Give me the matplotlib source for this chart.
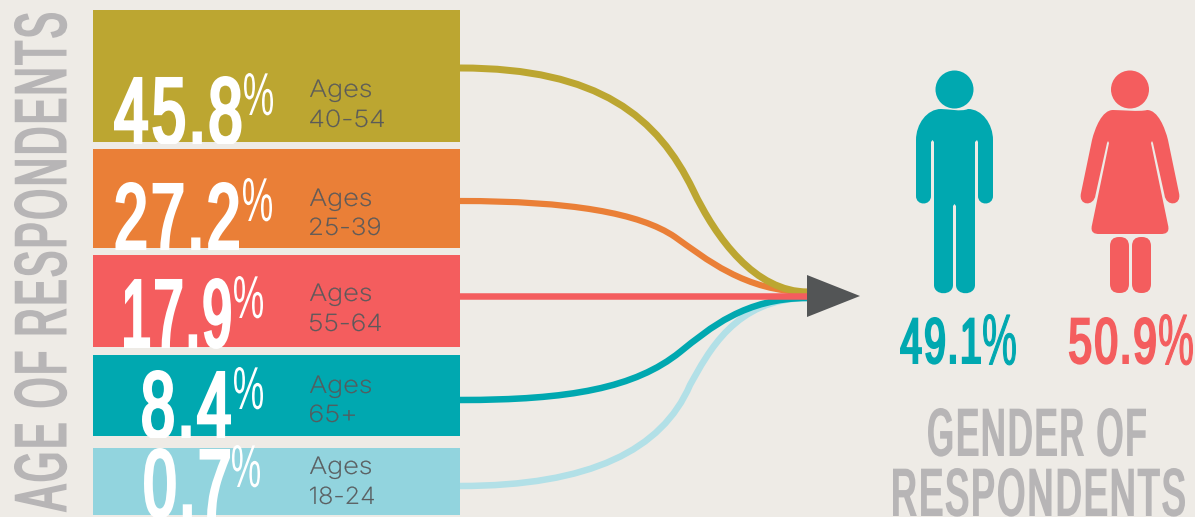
import matplotlib
matplotlib.use("Agg")
import logging
logging.getLogger("matplotlib.font_manager").setLevel(logging.ERROR)
import matplotlib.pyplot as plt
from matplotlib.patches import Rectangle, PathPatch, Circle, Polygon, FancyBboxPatch
from matplotlib.path import Path
from matplotlib.patheffects import AbstractPathEffect
from matplotlib.transforms import Affine2D
import numpy as np

# ---- data ----
age_groups = ["40-54", "25-39", "55-64", "65+", "18-24"]
age_values = [45.8, 27.2, 17.9, 8.4, 0.7]
gender_labels = ["Male", "Female"]
gender_values = [49.1, 50.9]

# ---- layout and style (pixel space) ----
W, H = 1195, 517
BG = "#eeebe6"
GRAY = "#b7b5b6"
DARK = "#58595b"
colors = ["#bca631", "#ea7f37", "#f45d5e", "#00a8b0", "#92d4de"]
line_colors = ["#bca631", "#ea7f37", "#f45d5e", "#00a8b0", "#b2e0e7"]
bar_top = [10, 149, 255, 355, 448]
bar_bot = [142, 248, 347, 436, 515]
# each flow line is two joined curve pieces: start, control, control, middle, control, control, end
flow_paths = [
    [(460, 68), (600, 68), (658, 118), (693, 190), (716, 238), (755, 292), (808, 292)],
    [(460, 201), (570, 201), (640, 213), (675, 237), (705, 258), (745, 292), (808, 292)],
    [(460, 296.5), (570, 296.5), (650, 296.5), (675, 296.5), (700, 296.5), (750, 296.5), (808, 296.5)],
    [(460, 400), (570, 400), (635, 388), (680, 352), (710, 328), (745, 298), (808, 298)],
    [(460, 486), (590, 486), (662, 450), (690, 385), (708, 353), (735, 298), (808, 298)],
]
line_w = [7.0, 6.2, 6.5, 6.5, 6.5]
line_order = [1, 0, 4, 3, 2]
num_box = [(114, 241.5, 76, 145), (115.5, 239, 182, 251), (124, 231, 278, 348),
           (142, 231, 370, 439), (144, 230, 448, 518)]
pct_box = [(244, 273, 73, 115), (243, 272, 178, 221), (234, 263, 276, 318),
           (234, 263, 367, 409), (232, 260, 445, 487)]
age_base = [(97, 127), (206, 235), (301, 331), (393, 422), (474, 504)]
age_w = [(61, 74), (61, 70), (61, 71), (61, 45), (61, 64)]


class Fit(AbstractPathEffect):
    """Scale a glyph run so its ink fills a given width and cap height.
    narrow < 1 slims each glyph about its own centre, opening the letter gaps."""
    def __init__(self, w, h, grow=0.0, narrow=1.0):
        super().__init__()
        self.w, self.h, self.grow, self.narrow = w, h, grow, narrow

    def _slim(self, tpath):
        verts = np.array(tpath.vertices, dtype=float)
        codes = tpath.codes
        if self.narrow >= 1 or codes is None:
            return tpath
        starts = list(np.nonzero(codes == Path.MOVETO)[0]) + [len(codes)]
        contours = []
        for a, b in zip(starts[:-1], starts[1:]):
            keep = np.arange(a, b)[codes[a:b] != Path.CLOSEPOLY]
            contours.append((verts[keep, 0].min(), verts[keep, 0].max(), a, b))
        contours.sort()
        groups = []
        for c in contours:
            if groups and c[0] < groups[-1][1]:
                groups[-1][1] = max(groups[-1][1], c[1])
                groups[-1][2].append((c[2], c[3]))
            else:
                groups.append([c[0], c[1], [(c[2], c[3])]])
        for lo, hi, parts in groups:
            cx = (lo + hi) / 2
            for a, b in parts:
                verts[a:b, 0] = cx + (verts[a:b, 0] - cx) * self.narrow
        return Path(verts, codes)

    def draw_path(self, renderer, gc, tpath, affine, rgbFace=None):
        tpath = self._slim(tpath)
        ext = tpath.get_extents()
        m = affine.get_matrix()
        s = float(np.hypot(m[0, 0], m[1, 0]))
        sx = (self.w - self.grow) / (ext.width * s)
        sy = (self.h - self.grow) / (ext.y1 * s)
        off = self.grow / 2 / s
        t = Affine2D().translate(-ext.x0, 0).scale(sx, sy).translate(off, off) + affine
        if self.grow > 0:
            g = renderer.new_gc()
            g.copy_properties(gc)
            g.set_foreground(rgbFace)
            g.set_linewidth(self.grow * 72 / 100)
            g.set_joinstyle("miter")
            renderer.draw_path(g, tpath, t, rgbFace)
            g.restore()
        else:
            renderer.draw_path(gc, tpath, t, rgbFace)


fig = plt.figure(figsize=(W / 100, H / 100), dpi=100, facecolor=BG)
ax = fig.add_axes([0, 0, 1, 1])
ax.set_xlim(0, W)
ax.set_ylim(H, 0)
ax.axis("off")
rend = fig.canvas.get_renderer()

COND = ["Liberation Sans Narrow", "Liberation Sans"]
BODY = ["Inter", "DejaVu Sans"]


def fit_text(s, x0, x1, top, base, color, family=COND, weight="normal", grow=0.0,
             narrow=1.0, clip=None, rotated=False, z=5):
    run, cap = (base - top, x1 - x0) if rotated else (x1 - x0, base - top)
    pos = (x1, base) if rotated else (x0, base)
    t = ax.text(pos[0], pos[1], s, rotation=90 if rotated else 0, rotation_mode="anchor",
                ha="left", va="baseline", color=color, family=family, weight=weight,
                fontsize=cap, zorder=z, path_effects=[Fit(run, cap, grow, narrow)])
    # size the layout box so it spans the same run as the drawn ink
    bb = t.get_window_extent(rend)
    span = bb.height if rotated else bb.width
    t.set_fontsize(cap * run / span)
    if clip is not None:
        t.set_clip_path(clip)
        t.set_clip_on(True)
    return t


# flowing lines behind the bars
for i in line_order:
    codes = [Path.MOVETO] + [Path.CURVE4] * 6
    ax.add_patch(PathPatch(Path(flow_paths[i], codes), fc="none", ec=line_colors[i],
                           lw=line_w[i] * 0.72, capstyle="butt", zorder=2))
ax.add_patch(Polygon([(807, 275), (807, 317), (860, 296)], fc="#535556", ec="none", zorder=3))

# bars and their labels
for i, (grp, val) in enumerate(zip(age_groups, age_values)):
    top, bot = bar_top[i], bar_bot[i]
    ax.add_patch(Rectangle((93, top), 367, bot - top, fc=colors[i], ec="none", zorder=3))
    clip = Rectangle((0, top - 10), W, bot - top + 11.5, transform=ax.transData)
    b = num_box[i]
    fit_text(f"{val}", b[0], b[1], b[2], b[3], "white", grow=3.5, narrow=0.9, clip=clip)
    p = pct_box[i]
    fit_text("%", p[0], p[1], p[2], p[3], "white")
    fit_text("Ages", 310, 310 + age_w[i][0], age_base[i][0] - 17.5, age_base[i][0], DARK,
             family=BODY, weight="light", grow=0.3)
    fit_text(grp, 310, 310 + age_w[i][1], age_base[i][1] - 17.5, age_base[i][1], DARK,
             family=BODY, weight="light", grow=0.3)

# section titles
fit_text("AGE OF RESPONDENTS", 14, 66.5, 13, 512, GRAY, grow=2.5, narrow=0.9, rotated=True)
fit_text("GENDER OF", 928, 1146, 408, 456, GRAY, grow=2.5, narrow=0.9)
fit_text("RESPONDENTS", 893, 1185, 468, 516, GRAY, grow=2.5, narrow=0.9)

# gender percentages
fit_text(f"{gender_values[0]}", 900, 981, 317, 364, colors[3], grow=2.5, narrow=0.9)
fit_text("%", 983, 1016, 314, 365, colors[3], grow=1.0)
fit_text(f"{gender_values[1]}", 1069, 1156, 317, 364, colors[2], grow=2.5, narrow=0.9)
fit_text("%", 1159, 1193, 314, 365, colors[2], grow=1.0)

# man pictogram
M, L, C = Path.MOVETO, Path.LINETO, Path.CURVE4
ax.add_patch(Circle((954.5, 89.5), 19, fc=colors[3], ec="none", zorder=4))
man = [
    (M, (941, 109)), (C, (948, 109)), (C, (961, 112)), (C, (968, 109)),
    (C, (982, 109)), (C, (993, 124)), (C, (993, 140)),
    (L, (993, 196)), (C, (993, 206)), (C, (978, 206)), (C, (978, 196)),
    (L, (978, 142)), (L, (977, 140)), (L, (975, 142)), (L, (975, 285)),
    (C, (975, 296)), (C, (956, 296)), (C, (956, 285)),
    (L, (956, 206)), (L, (954.5, 204)), (L, (953, 206)), (L, (953, 285)),
    (C, (953, 296)), (C, (934, 296)), (C, (934, 285)),
    (L, (934, 142)), (L, (932.5, 140)), (L, (931, 142)), (L, (931, 196)),
    (C, (931, 206)), (C, (916, 206)), (C, (916, 196)), (L, (916, 140)),
    (C, (916, 124)), (C, (927, 109)), (C, (941, 109)),
]
ax.add_patch(PathPatch(Path([p for _, p in man], [c for c, _ in man]),
                       fc=colors[3], ec="none", zorder=4))

# woman pictogram
ax.add_patch(Circle((1130, 89.5), 19, fc=colors[2], ec="none", zorder=4))
mx = lambda x: 2260 - x
woman = [
    (M, (1113, 110)), (C, (1120, 110)), (C, (1140, 112)), (C, (1147, 110)),
    (C, (1158, 110)), (C, (1165, 128)), (C, (1168, 140)),
    (L, (1179, 193)), (C, (1182, 206)), (C, (1166, 207)), (C, (1164.5, 195)),
    (L, (1153, 143)), (L, (1152, 141)), (L, (1151, 143)), (L, (1168, 225)),
    (C, (1170, 233)), (C, (1165, 234)), (C, (1161, 234)),
    (L, (mx(1161), 234)), (C, (mx(1165), 234)), (C, (mx(1170), 233)), (C, (mx(1168), 225)),
    (L, (mx(1151), 143)), (L, (mx(1152), 141)), (L, (mx(1153), 143)), (L, (mx(1164.5), 195)),
    (C, (mx(1166), 207)), (C, (mx(1182), 206)), (C, (mx(1179), 193)), (L, (mx(1168), 140)),
    (C, (mx(1165), 128)), (C, (mx(1158), 110)), (C, (1113, 110)),
]
ax.add_patch(PathPatch(Path([p for _, p in woman], [c for c, _ in woman]),
                       fc=colors[2], ec="none", zorder=4))
for lx in (1110, 1132):
    ax.add_patch(FancyBboxPatch((lx + 9, 246), 1, 38, boxstyle="round,pad=9,rounding_size=9",
                                fc=colors[2], ec="none", zorder=4))

fig.savefig("out.png", dpi=100, facecolor=BG)
